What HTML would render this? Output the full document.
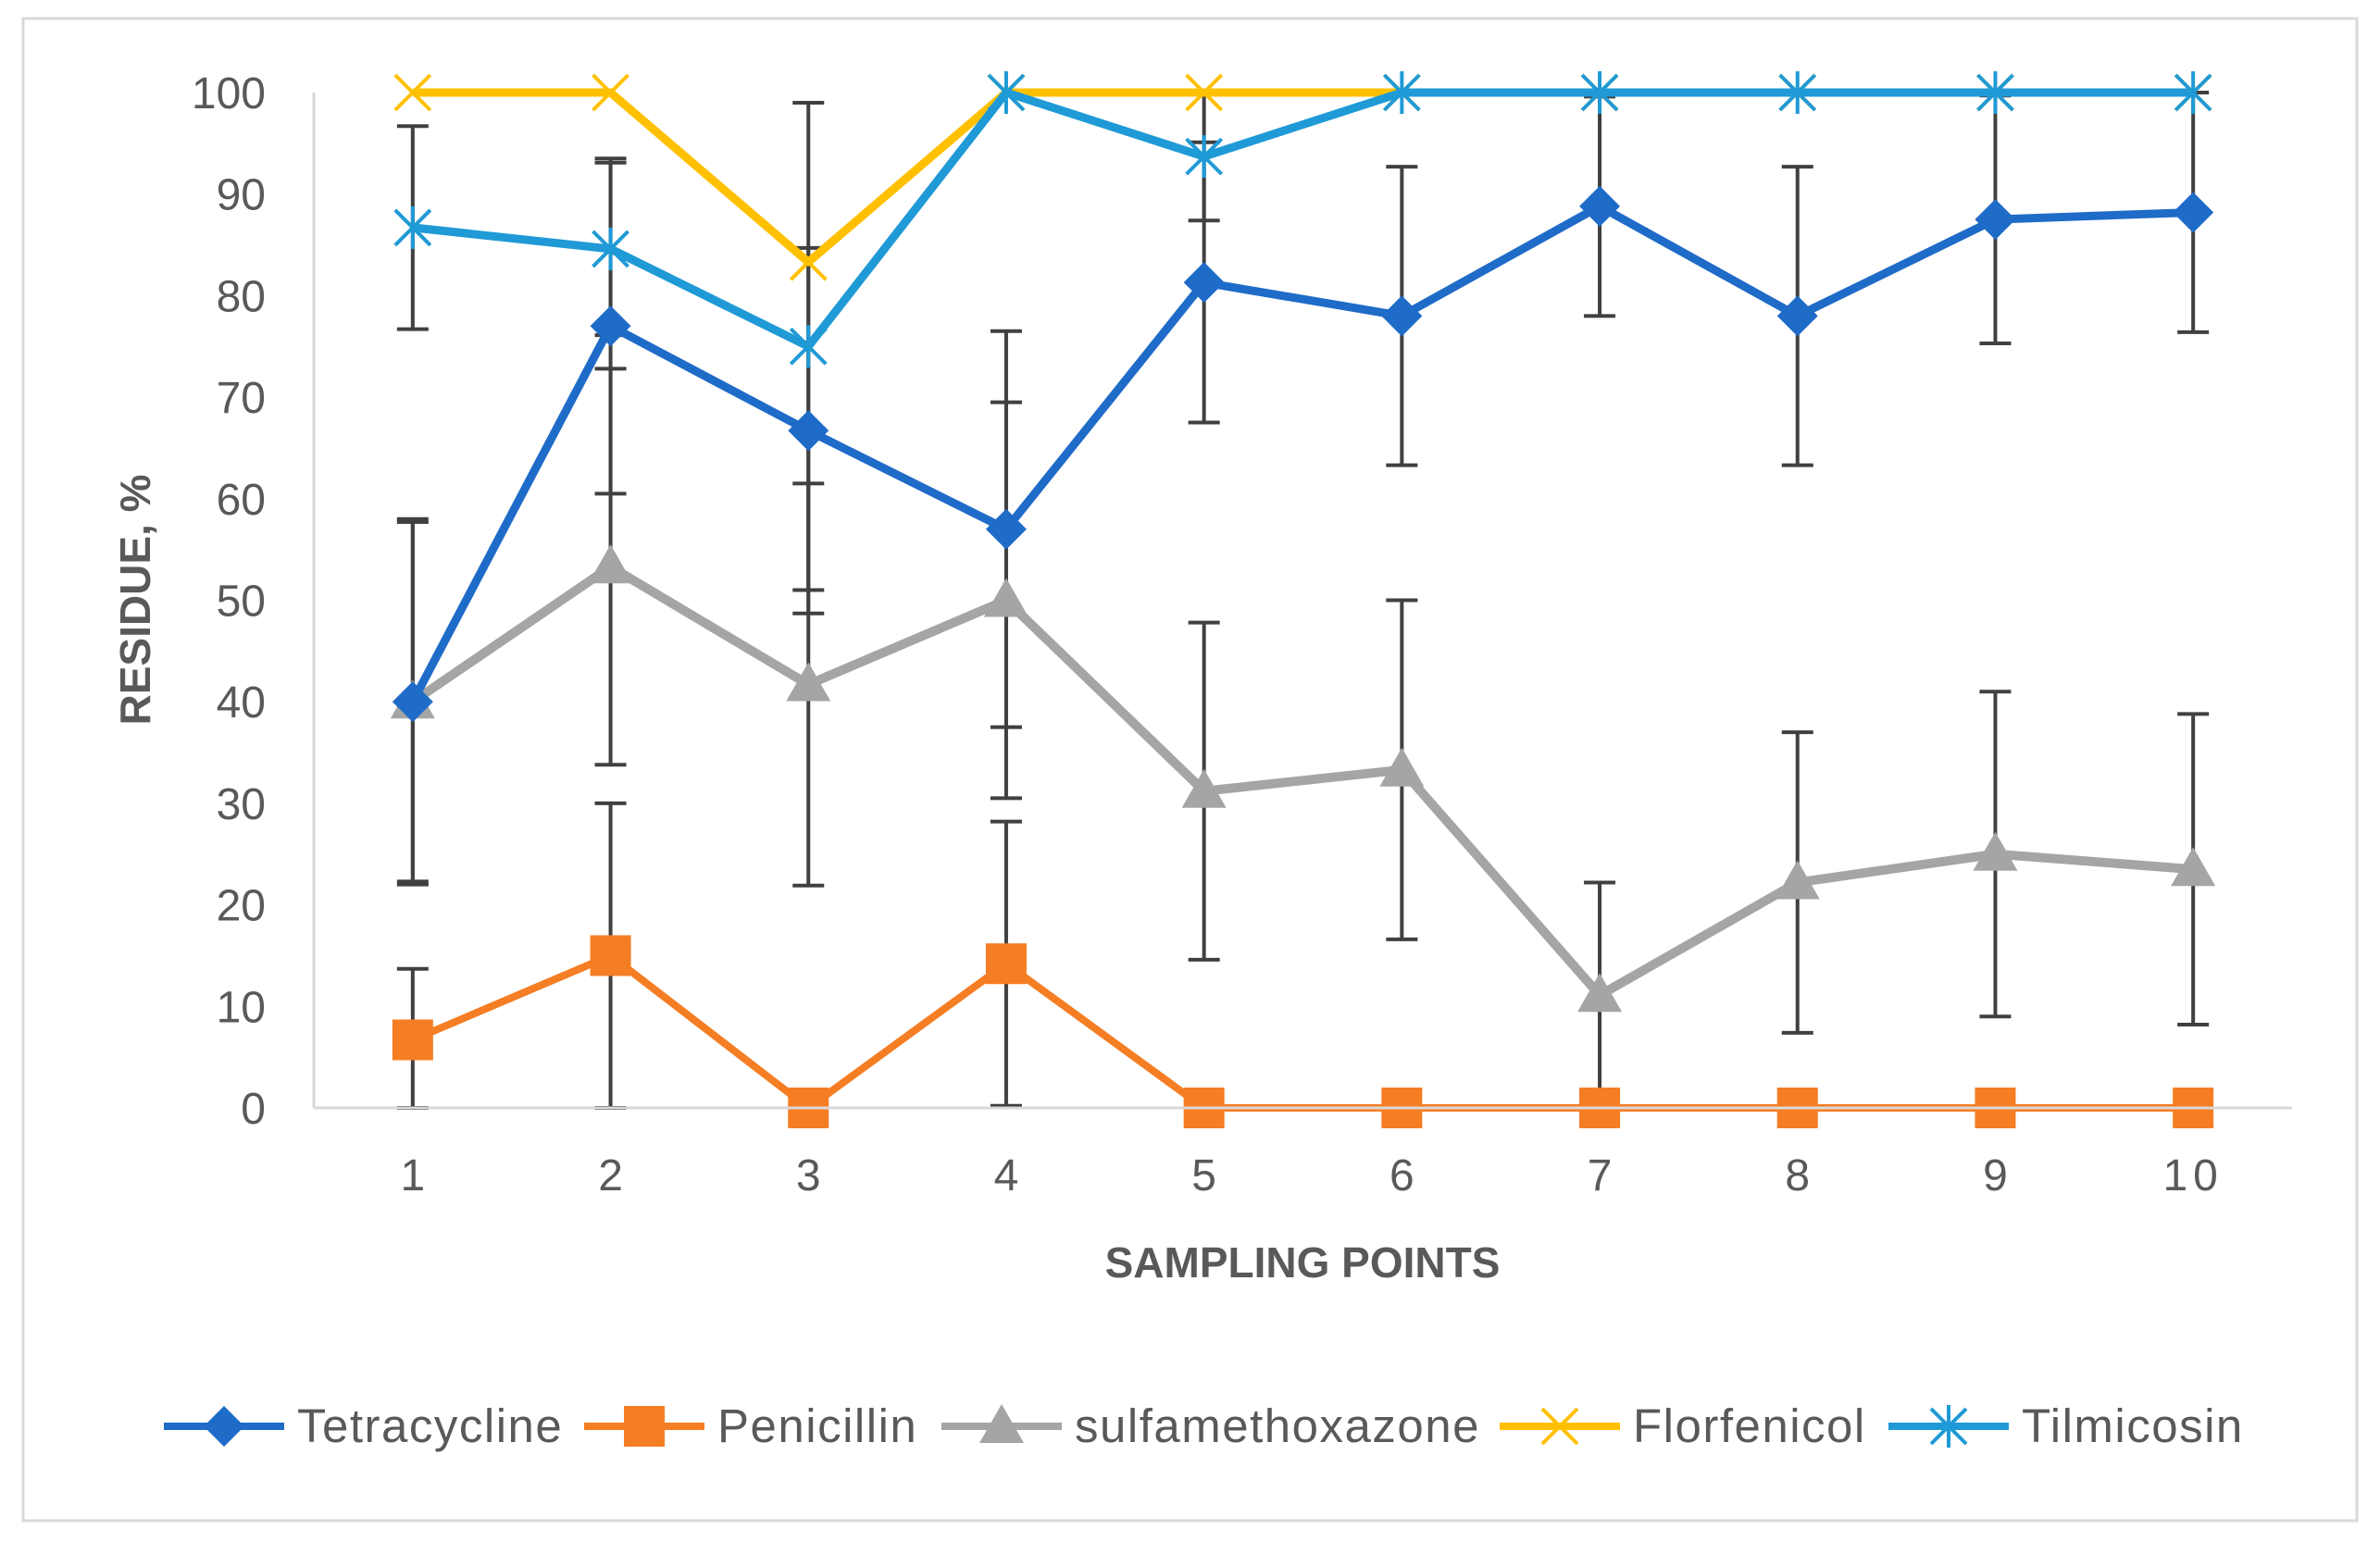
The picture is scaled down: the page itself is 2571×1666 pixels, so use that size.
<!DOCTYPE html>
<html><head><meta charset="utf-8">
<style>
html,body{margin:0;padding:0;background:#fff;}
svg{display:block;font-family:"Liberation Sans",sans-serif;}
</style></head>
<body>
<svg id="chart" width="2571" height="1666" viewBox="0 0 2571 1666" xmlns="http://www.w3.org/2000/svg">
<rect x="25" y="20" width="2521" height="1623" fill="#fff" stroke="#d9d9d9" stroke-width="3"/>
<g id="grid"></g>
<g id="errs"></g>
<g id="series"></g>
<g id="axes"></g>
<text x="0" y="0" transform="translate(162,648) rotate(-90)" text-anchor="middle" font-size="46" font-weight="bold" fill="#595959">RESIDUE, %</text>
<text x="1407" y="1380" text-anchor="middle" font-size="46" font-weight="bold" fill="#595959">SAMPLING POINTS</text>
<g id="legend"></g>
</svg>
<script>
const categories = ["1","2","3","4","5","6","7","8","9","10"];
const yTicks = [0,10,20,30,40,50,60,70,80,90,100];
const tetracycline = [40,77,66.7,57,81.3,78,88.8,78,87.5,88.2];
const tetracyclineErr = [17.7,16.5,18,19.5,13.8,14.7,10.8,14.7,12.2,11.8];
const penicillin = [6.7,15,0,14.2,0,0,0,0,0,0];
const penicillinErr = [7,15,0,14,0,0,0,0,0,0];
const sulfamethoxazone = [40,53.3,41.7,50,31.2,33.3,11.1,22.2,25,23.5];
const sulfamethoxazoneErr = [18,19.5,19.8,19.5,16.6,16.7,11.1,14.8,16,15.3];
const florfenicol = [100,100,83.3,100,100,100,100,100,100,100];
const tilmicosin = [86.7,84.6,75,100,93.7,100,100,100,100,100];
const tilmicosinErr = [10,8.5,24,0,6.3,0,0,0,0,0];

const NS="http://www.w3.org/2000/svg";
const X0=339,X1=2476,Y0=1197,Y100=100;
const band=(X1-X0)/categories.length;
function xS(i){return X0+band*(i+0.5);}
function yS(v){return Y0-(Y0-Y100)*v/100;}
function mk(tag,attrs,parent){const e=document.createElementNS(NS,tag);for(const k in attrs)e.setAttribute(k,attrs[k]);parent.appendChild(e);return e;}
const axes=document.getElementById('axes'),errs=document.getElementById('errs'),series=document.getElementById('series'),legend=document.getElementById('legend');

let el=mk('line',{x1:X0,y1:Y100,x2:X0,y2:Y0,stroke:'#d9d9d9','stroke-width':3},axes);


el=mk('line',{x1:X0,y1:Y0,x2:X1,y2:Y0,stroke:'#d9d9d9','stroke-width':3},axes);


yTicks.forEach(v=>{
  const t=mk('text',{x:287,y:yS(v)+17,'text-anchor':'end','font-size':48,fill:'#595959'},axes);
  t.textContent=v;
  
  
});
categories.forEach((c,i)=>{
  const t=mk('text',{x:xS(i),y:1286,'text-anchor':'middle','font-size':48,fill:'#595959','letter-spacing':c.length>1?6:0},axes);
  t.textContent=c;
  
  
});

function errBars(vals,errsArr,name){
  vals.forEach((v,i)=>{
    const e=errsArr[i]; if(!e) return;
    const g=mk('g',{stroke:'#404040','stroke-width':4},errs);
    
    
    const hi=Math.min(v+e,100),lo=Math.max(v-e,0);
    mk('line',{x1:xS(i),y1:yS(hi),x2:xS(i),y2:yS(lo)},g);
    mk('line',{x1:xS(i)-17,y1:yS(hi),x2:xS(i)+17,y2:yS(hi)},g);
    mk('line',{x1:xS(i)-17,y1:yS(lo),x2:xS(i)+17,y2:yS(lo)},g);
  });
}
errBars(tetracycline,tetracyclineErr,'tetracycline');
errBars(penicillin,penicillinErr,'penicillin');
errBars(sulfamethoxazone,sulfamethoxazoneErr,'sulfamethoxazone');
errBars(tilmicosin,tilmicosinErr,'tilmicosin');

function marker(type,x,y,color,parent){
  if(type==='diamond') return mk('polygon',{points:`${x},${y-22} ${x+22},${y} ${x},${y+22} ${x-22},${y}`,fill:color},parent);
  if(type==='square') return mk('rect',{x:x-22,y:y-22,width:44,height:44,fill:color},parent);
  if(type==='triangle') return mk('polygon',{points:`${x},${y-24} ${x+24},${y+18} ${x-24},${y+18}`,fill:color},parent);
  const g=mk('g',{stroke:color,'stroke-width':4,fill:'none'},parent);
  mk('line',{x1:x-19,y1:y-19,x2:x+19,y2:y+19},g);
  mk('line',{x1:x-19,y1:y+19,x2:x+19,y2:y-19},g);
  if(type==='star') mk('line',{x1:x,y1:y-23,x2:x,y2:y+23},g);
  return g;
}
function drawSeries(vals,color,type,name,w){
  const g=mk('g',{},series);
  
  
  const p=mk('polyline',{points:vals.map((v,i)=>xS(i)+','+yS(v)).join(' '),fill:'none',stroke:color,'stroke-width':w,'stroke-linejoin':'round'},g);
  
  
  vals.forEach((v,i)=>{
    const m=marker(type,xS(i),yS(v),color,g);
    
    
  });
}
drawSeries(sulfamethoxazone,'#a5a5a5','triangle','sulfamethoxazone',10);
drawSeries(penicillin,'#f57d23','square','penicillin',8);
drawSeries(florfenicol,'#ffc000','x','florfenicol',9);
drawSeries(tilmicosin,'#1f9ad6','star','tilmicosin',9);
drawSeries(tetracycline,'#1f6bc8','diamond','tetracycline',9);

const legNames=['Tetracycline','Penicillin','sulfamethoxazone','Florfenicol','Tilmicosin'];
const legColors=['#1f6bc8','#f57d23','#a5a5a5','#ffc000','#1f9ad6'];
const legTypes=['diamond','square','triangle','x','star'];
const legX=[177,631,1017,1620,2040];
legNames.forEach((n,i)=>{
  const g=mk('g',{},legend);
  
  
  const ly=1541;
  mk('line',{x1:legX[i],y1:ly,x2:legX[i]+130,y2:ly,stroke:legColors[i],'stroke-width':8},g);
  marker(legTypes[i],legX[i]+65,ly,legColors[i],g);
  const t=mk('text',{x:legX[i]+144,y:ly+17,'font-size':51,'letter-spacing':1.5,fill:'#595959'},g);
  t.textContent=n;
});
</script>
</body></html>
